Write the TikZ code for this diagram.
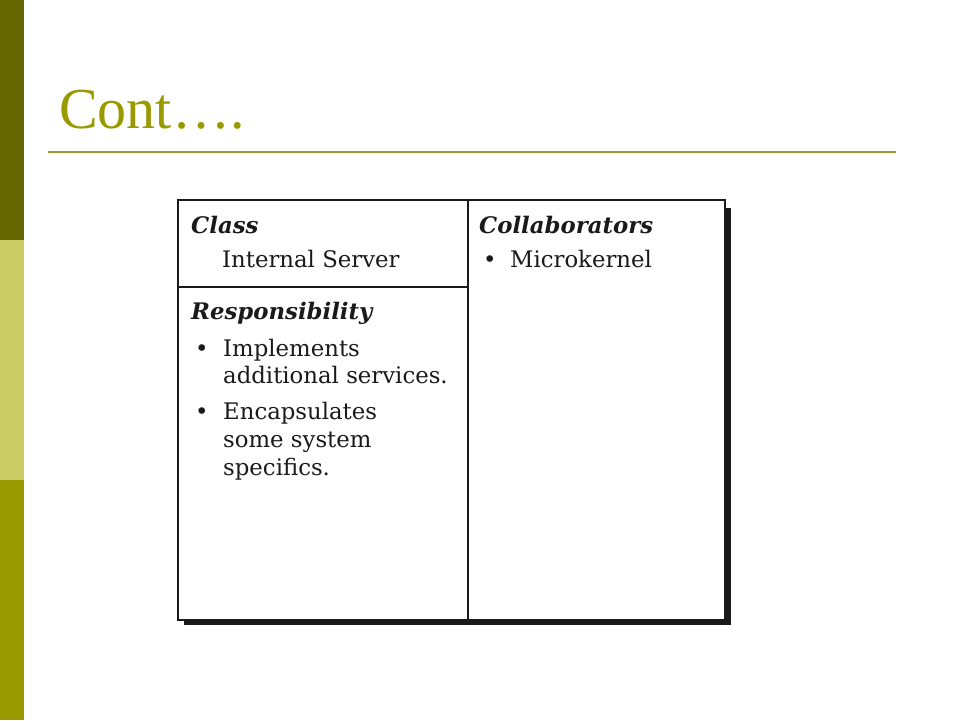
\documentclass[tikz,border=0pt]{standalone}
\usepackage{fontspec}
\newfontfamily\cardfont{DejaVu Serif}
\newfontfamily\titlefont{Liberation Serif}
\definecolor{bardark}{HTML}{666600}
\definecolor{barlight}{HTML}{CCCC66}
\definecolor{barmid}{HTML}{999900}
\definecolor{titleol}{HTML}{999900}
\definecolor{ruleol}{HTML}{999933}
\definecolor{ink}{HTML}{1A1A1A}
\tikzset{
  cardtext/.style={anchor=base west, inner sep=0pt, text=ink, font=\cardfont\fontsize{22.8}{26}\selectfont},
  cardhead/.style={anchor=base west, inner sep=0pt, text=ink, font=\cardfont\bfseries\itshape\fontsize{22.8}{26}\selectfont},
  cardline/.style={draw=ink, line width=1.5pt},
}
\begin{document}
\begin{tikzpicture}[x=1pt,y=-1pt]
\useasboundingbox (0,0) rectangle (960,720);
\fill[white] (0,0) rectangle (960,720);
% left bar
\fill[bardark] (0,0) rectangle (24,240);
\fill[barlight] (0,240) rectangle (24,480);
\fill[barmid] (0,480) rectangle (24,720);
% title
\node[anchor=base west, inner sep=0pt, text=titleol, font=\titlefont\fontsize{58}{60}\selectfont] (title) at (59,128) {Cont….};
\coordinate (ruleL) at (48,152);
\coordinate (ruleR) at (896,152);
\draw[ruleol, line width=2pt] (ruleL) -- (ruleR);
% card shadow
\fill[ink] (725,208) rectangle (731,625);
\fill[ink] (184,619) rectangle (731,625);
% card
\coordinate (cNW) at (178,200);
\coordinate (cSE) at (725,620);
\filldraw[cardline, fill=white] (cNW) rectangle (cSE);
\coordinate (midT) at (468,200);
\coordinate (midB) at (468,620);
\draw[cardline] (midT) -- (midB);
\coordinate (hL) at (178,287);
\coordinate (hR) at (468,287);
\draw[cardline] (hL) -- (hR);
% texts
\node[cardhead] (classh) at (191,233) {Class};
\node[cardtext] (classn) at (222,267) {Internal Server};
\node[cardhead] (resph) at (191,319) {Responsibility};
\node[cardtext] (b1) at (195,356) {•};
\node[cardtext] (r1a) at (223,356) {Implements};
\node[cardtext] (r1b) at (223,383) {additional services.};
\node[cardtext] (b2) at (195,419) {•};
\node[cardtext] (r2a) at (223,419) {Encapsulates};
\node[cardtext] (r2b) at (223,447) {some system};
\node[cardtext] (r2c) at (223,475) {specifics.};
\node[cardhead] (collh) at (479,233) {Collaborators};
\node[cardtext] (b3) at (483,267) {•};
\node[cardtext] (c1) at (510,267) {Microkernel};
\end{tikzpicture}
\end{document}
